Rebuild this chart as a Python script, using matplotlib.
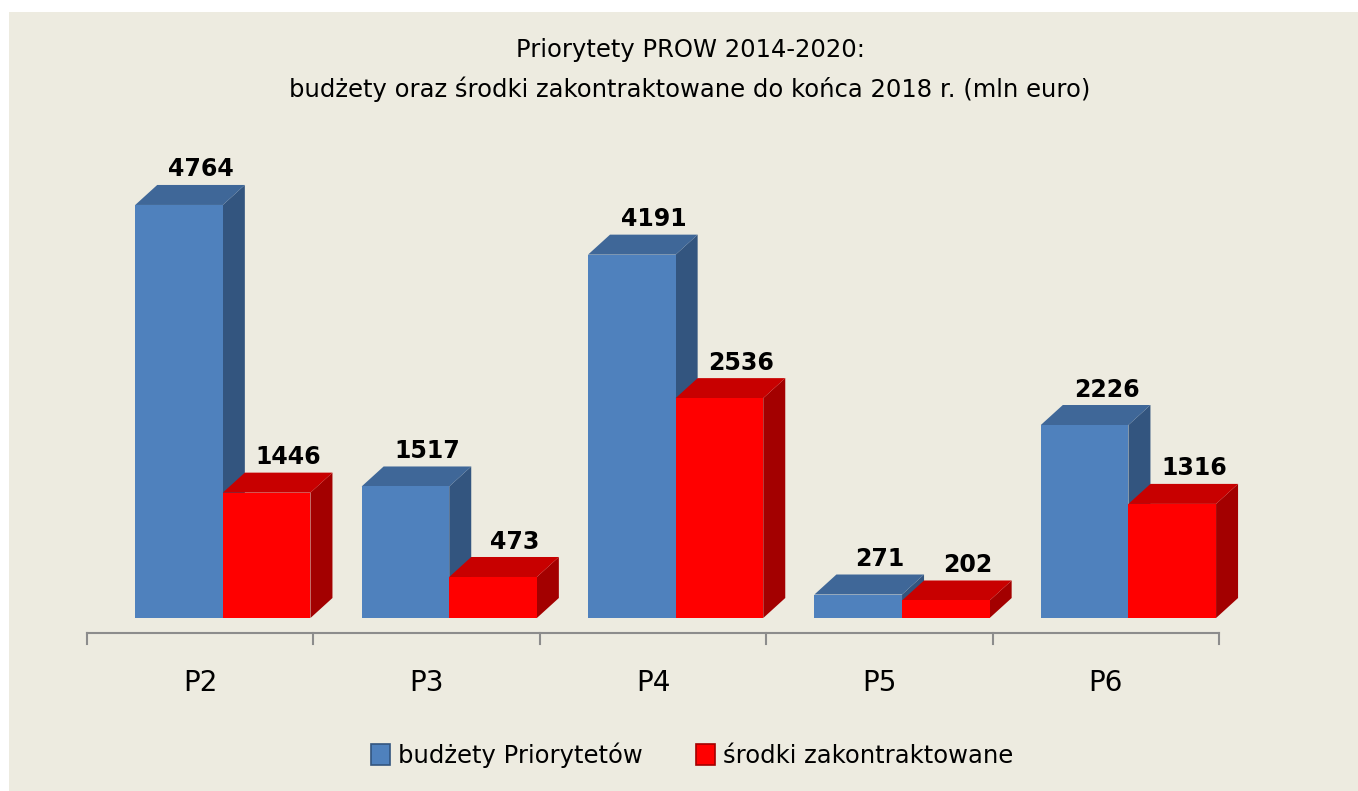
import numpy as np
import matplotlib
matplotlib.use("Agg")
import matplotlib.pyplot as plt
from matplotlib.patches import Polygon, Rectangle

plt.rcParams["font.family"] = ["DejaVu Sans"]

# data
categories = ["P2", "P3", "P4", "P5", "P6"]
budget = [4764, 1517, 4191, 271, 2226]
contracted = [1446, 473, 2536, 202, 1316]
series_names = ["budżety Priorytetów", "środki zakontraktowane"]
title = "Priorytety PROW 2014-2020:\nbudżety oraz środki zakontraktowane do końca 2018 r. (mln euro)"

# colours: front, top, side
blue = ("#4F81BD", "#3F6798", "#33557F")
red = ("#FF0000", "#C80000", "#A30000")
bg = "#EDEBE0"

W, H = 1358, 791
fig = plt.figure(figsize=(W / 100, H / 100), dpi=100, facecolor="white")
fig.patches.append(Rectangle((9 / W, 0), 1, (H - 12) / H, transform=fig.transFigure,
                             facecolor=bg, edgecolor="none", zorder=-5))

ax = fig.add_axes([0, 0, 1, 1])
ax.set_facecolor("none")
ax.axis("off")

# pixel layout -> data units
x0_px, cat_px = 87, 226.4          # left of first category, width of a category
base_px = 618                     # bar base (pixels from top)
px_per_val = 0.0867
ax.set_xlim(-x0_px / cat_px, (W - x0_px) / cat_px)
ax.set_ylim(-(H - base_px) / px_per_val, base_px / px_per_val)

dx = 22 / cat_px
dy = 20 / px_per_val
bw = 0.387
offs = [0.213, 0.213 + bw]


def bar3d(x, w, h, cols, z):
    front, top, side = cols
    ax.add_patch(Polygon([(x + w, 0), (x + w + dx, dy), (x + w + dx, h + dy), (x + w, h)],
                         closed=True, facecolor=side, edgecolor="none", zorder=z))
    ax.add_patch(Polygon([(x, h), (x + dx, h + dy), (x + w + dx, h + dy), (x + w, h)],
                         closed=True, facecolor=top, edgecolor="none", zorder=z))
    ax.bar(x, h, width=w, align="edge", color=front, edgecolor="none", zorder=z)


for i in range(len(categories)):
    for j, (vals, cols) in enumerate([(budget, blue), (contracted, red)]):
        x = i + offs[j]
        v = vals[i]
        bar3d(x, bw, v, cols, 2 + j)
        ax.text(x + bw / 2 + dx, v + dy + 40, f"{v}", ha="center", va="bottom",
                fontsize=17, fontweight="bold", color="black", zorder=10)

# category axis
axis_y = -15 / px_per_val
ax.plot([0, len(categories)], [axis_y, axis_y], color="#8C8C8C", lw=1.5, zorder=1)
for k in range(len(categories) + 1):
    ax.plot([k, k], [axis_y, axis_y - 11 / px_per_val], color="#8C8C8C", lw=1.5, zorder=1)
for i, c in enumerate(categories):
    ax.text(i + 0.5, -(683 - base_px) / px_per_val, c, ha="center", va="center",
            fontsize=20, color="black")

fig.text(690 / W, 1 - 70 / H, title, ha="center", va="center", fontsize=17.5,
         linespacing=1.75, color="black")

handles = [Rectangle((0, 0), 1, 1, facecolor=blue[0], edgecolor=blue[2], lw=1.2),
           Rectangle((0, 0), 1, 1, facecolor=red[0], edgecolor=red[2], lw=1.2)]
fig.legend(handles, series_names, loc="center", bbox_to_anchor=(692 / W, 1 - 755 / H),
           ncol=2, frameon=False, fontsize=17.5, handlelength=0.8, handleheight=1.0,
           handletextpad=0.3, columnspacing=2.2)

fig.savefig("out.png", dpi=100, facecolor="white")
